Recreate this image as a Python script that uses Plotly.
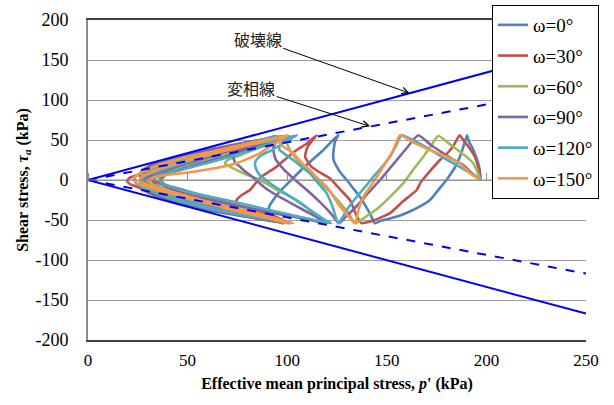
import plotly.graph_objects as go

# ---------------- data ----------------
names = ["ω=0°", "ω=30°", "ω=60°", "ω=90°", "ω=120°", "ω=150°"]
colors = ["#4F81BD", "#C0504D", "#9BBB59", "#8064A2", "#4BACC6", "#F79646"]

p_w0 = [197, 196.8, 196, 194.6, 193, 191.2, 190.3,
        188.5, 186.7, 184, 180.5, 176, 171.7, 166, 161, 156, 151.6, 147, 144,
        141.6, 139, 136.5, 133, 129.9, 126.8, 124.8, 123.3, 123.1, 123.5, 124, 125.6,
        121.5, 117.5, 112.5, 108, 104, 100, 96, 93, 91, 90.5, 93, 97, 101,
        92, 82, 70, 58, 47, 39, 33, 30.5, 30.5, 33, 39, 48, 60, 72, 84, 94, 99,
        90, 80, 68, 56, 46, 38, 33, 31, 32, 36, 44, 55, 67, 80, 91, 102,
        92, 80, 68, 56, 46, 38, 33, 32, 34, 40, 50, 62, 75, 87, 97, 104]
t_w0 = [0, 10, 20, 30, 40, 48, 56,
        42, 29, 15, 2, -12, -25, -34, -40, -45, -48, -51, -54,
        -42, -31, -21, -10, 0, 9, 17, 25, 33, 41, 48, 56,
        46, 36, 25, 15, 5, -5, -15, -25, -33, -38, -44, -49, -54,
        -50, -45, -38, -31, -24, -18, -12, -6, 0, 5, 11, 18, 27, 36, 44, 50, 55,
        51, 46, 40, 33, 26, 19, 12, 5, -2, -8, -15, -24, -33, -41, -48, -54,
        -49, -43, -37, -30, -23, -16, -9, -3, 3, 10, 19, 29, 38, 46, 51, 55]

p_w30 = [197, 196.5, 195.5, 194, 191.5, 189, 186.5,
         184, 181, 176.7, 172, 167, 165, 158, 151.6, 146, 141.6, 137.4,
         136, 134, 131.5, 127, 121.5, 116, 111.4, 109, 109.5, 110.4, 112.5, 114.8,
         109.5, 104.8, 99.5, 94.7, 90, 86.3, 81.3, 77, 74.6, 73.8, 76, 81, 90, 98,
         90, 80, 68, 56, 45, 35, 27, 21, 19.6, 21, 26, 35, 48, 62, 76, 88, 97,
         88, 76, 64, 52, 42, 34, 29, 28, 30, 36, 46, 58, 71, 84, 94, 100,
         90, 78, 66, 54, 44, 36, 30, 27, 28, 33, 42, 54, 67, 80, 91, 98]
t_w30 = [0, 10, 20, 30, 40, 48, 56,
         45, 35, 25, 12, -3, -12.5, -27, -41.5, -48, -52, -54,
         -50, -40, -25, -13, 2, 10, 18.7, 29, 36, 42, 49, 56,
         45, 37.5, 27, 16.7, 9, 2.5, -12.5, -19, -25, -33, -39, -45, -50, -54,
         -49, -44, -38, -31, -25, -18, -11, -5, -1, 3, 7, 13, 21, 30, 38, 46, 55,
         51, 45, 38, 31, 24, 18, 13, 8, 3, -4, -11, -20, -29, -38, -46, -54,
         -49, -44, -39, -33, -27, -21, -14, -7, 0, 7, 15, 24, 33, 42, 49, 55]

p_w60 = [197, 195.5, 193.4, 190.5, 186.7, 181.5, 175.9,
         172, 168.3, 163, 158.3, 152.5, 146.6, 140.5, 134,
         131, 127, 122, 116, 110, 105, 101.5, 100, 101,
         95, 89.7, 83, 76.3, 72, 69.6, 68.8, 71.3, 78, 86.3, 96, 104.8, 111, 116.5, 120,
         108, 95, 82, 68, 55, 45, 39, 37, 39, 46, 58, 71, 84, 94, 101,
         90, 78, 66, 54, 44, 36, 30, 27, 28, 33, 42, 55, 69, 83, 94, 101,
         90, 78, 66, 54, 44, 36, 31, 29, 31, 37, 47, 59, 72, 85, 96]
t_w60 = [0, 10, 20.8, 28, 35.4, 45, 55.4,
         42, 29, 12, -4, -19, -33, -44, -54,
         -42, -30, -16, -2, 12, 25, 37, 46, 55,
         49, 43.7, 37.5, 31, 27, 24, 20.8, 16.7, 8.5, 0, -14, -25, -37, -50, -54,
         -48, -42, -36, -28, -21, -14, -7, 0, 6, 13, 22, 31, 40, 48, 55,
         51, 45, 39, 33, 27, 21, 15, 8, 1, -6, -14, -23, -32, -41, -48, -54,
         -50, -45, -39, -32, -25, -18, -11, -4, 3, 10, 17, 26, 35, 45, 55]

p_w90 = [197, 192, 188.4, 183, 178.4, 172, 165.8,
         160, 155, 146.6, 140, 134, 129, 126,
         122, 117, 111, 104, 98, 94, 93, 95, 100,
         92, 86, 80, 76, 74.6, 73, 73.8, 76.3, 78, 83, 88, 92, 104.8, 113, 120.6,
         110, 97, 83, 69, 56, 46, 39, 36, 38, 45, 57, 70, 83, 93, 100,
         89, 77, 65, 53, 43, 35, 29, 26, 27, 32, 41, 54, 68, 82, 93, 100,
         89, 77, 65, 53, 43, 35, 29, 27, 29, 35, 45, 57, 70, 83, 94]
t_w90 = [0, 10, 18.7, 26, 33.3, 44, 56,
         40, 25, 0, -18, -35, -47, -54,
         -42, -29, -15, 0, 14, 27, 40, 49, 55,
         48, 44, 40, 37, 35.4, 29, 22, 16.7, 12.5, 3, -8, -15, -33, -44, -54,
         -49, -43, -36, -29, -22, -15, -8, -1, 5, 12, 21, 30, 39, 47, 55,
         51, 46, 40, 34, 28, 22, 15, 8, 0, -7, -15, -24, -33, -42, -49, -54,
         -50, -45, -40, -34, -28, -21, -14, -6, 2, 9, 17, 26, 36, 46, 55]

p_w120 = [197, 191, 184, 177, 169, 157.5,
          154.5, 151.6, 147.5, 143.2, 139, 134.9, 129.9, 126.5, 125.5,
          123, 119.8, 115.5, 111.4, 107, 103, 98.5, 96, 96.5, 100, 105,
          98, 92, 87, 84.5, 83.8, 84.5, 86.3, 91.4, 98, 106, 113, 119, 122,
          112, 99, 85, 71, 58, 48, 40, 36, 36, 40, 49, 61, 74, 86, 96, 104,
          92, 79, 66, 54, 43, 34, 27, 23.6, 24, 28, 37, 50, 64, 79, 92, 101,
          90, 78, 65, 53, 43, 35, 29, 26, 28, 34, 44, 56, 69, 82, 95]
t_w120 = [0, 10, 20, 30, 42, 56,
          42, 29, 16, 4, -9, -21, -37.5, -52, -54,
          -35, -16.7, -4, 8.3, 17, 25, 33, 38, 45, 51, 56,
          46, 37, 31, 25, 21, 13, 6, -4, -15, -28, -40, -50, -54,
          -49, -42, -34, -26, -19, -13, -7, -2, 3, 8, 14, 22, 31, 41, 49, 55,
          49, 43, 36, 29, 22, 15, 9, 3, -4, -10, -18, -27, -36, -44, -50, -54,
          -49, -44, -38, -31, -24, -17, -10, -3, 4, 10, 18, 27, 37, 47, 55]

p_w150 = [197, 192, 186.7, 180, 171.7, 164, 156.6,
          153.3, 149, 145, 141.5, 138.2, 136, 134,
          130, 126.5, 123, 119.8, 115, 111.4, 107, 103, 99, 96.5, 96.5, 100,
          90, 78, 66, 55, 45, 37, 31, 27, 26, 28, 34, 44, 57, 71, 85, 96, 103,
          93, 81, 68, 56, 46, 38, 33, 31, 33, 38, 49, 62, 74.6, 86, 96.4, 100,
          89, 77, 65, 53, 43, 35, 29, 25, 23, 24, 29, 38, 50, 64, 78, 91, 100]
t_w150 = [0, 8, 20.8, 29, 37.5, 46, 56,
          37.5, 20, 4, -9, -21, -35, -54,
          -43, -33, -20, -8, 3, 12.5, 22, 33.7, 40, 45, 50, 56,
          49, 42, 35, 28, 21, 15, 9, 4, 0, -4, -9, -16, -25, -34, -42, -49, -54,
          -48, -41, -34, -27, -20, -14, -8, -2, 3, 6, 9, 14, 21, 33, 50, 55,
          50, 44, 37, 30, 24, 18, 12, 7, 2, -3, -8, -15, -23, -32, -41, -48, -54]

series_p = [p_w0, p_w30, p_w60, p_w90, p_w120, p_w150]
series_t = [t_w0, t_w30, t_w60, t_w90, t_w120, t_w150]

# reference lines (slopes)
line_p = [0, 250]
failure_up = [0, 168]
failure_low = [0, -167]
phase_up = [0, 118]
phase_low = [0, -117]

x_ticks = [0, 50, 100, 150, 200, 250]
y_ticks = [-200, -150, -100, -50, 0, 50, 100, 150, 200]
y_ticktext = ["-200", "-150", "-100", "-50", "0", "50", "100", "150", "200"]

# ---------------- figure ----------------
fig = go.Figure()
for nm, col, px, ty in zip(names, colors, series_p, series_t):
    fig.add_trace(go.Scatter(x=px, y=ty, mode="lines", name=nm, legendgroup=nm,
                             line=dict(color=col, width=2.6, shape="spline", smoothing=0.5)))

for yy, dash in [(failure_up, "solid"), (failure_low, "solid"),
                 (phase_up, "dash"), (phase_low, "dash")]:
    fig.add_trace(go.Scatter(x=line_p, y=yy, mode="lines", showlegend=False,
                             line=dict(color="#0000FF", width=2, dash=dash), hoverinfo="skip"))

# axis through zero with upward tick marks
fig.add_trace(go.Scatter(x=line_p, y=[0, 0], mode="lines", xaxis="x2", showlegend=False,
                         line=dict(color="#8C8C8C", width=1), hoverinfo="skip"))

serif = "Liberation Serif, Times New Roman, serif"
fig.update_layout(
    width=614, height=405,
    margin=dict(l=88, r=28, t=20, b=65, autoexpand=False),
    paper_bgcolor="white", plot_bgcolor="white",
    font=dict(family=serif, size=16, color="black"),
    xaxis=dict(range=[0, 250], tickvals=x_ticks, showgrid=False, zeroline=False,
               showline=True, linecolor="#404040", linewidth=1.5, mirror=True, ticks="",
               ticklabelstandoff=4, automargin=False,
               title=dict(text="<b>Effective mean principal stress, <i>p</i>' (kPa)</b>",
                          font=dict(family=serif, size=16), standoff=9),
               tickfont=dict(family=serif, size=17)),
    xaxis2=dict(range=[0, 250], overlaying="x", anchor="free", position=0.5, side="top",
                tickvals=x_ticks, ticks="outside", ticklen=7, tickcolor="#8C8C8C",
                showticklabels=False, showgrid=False, zeroline=False, showline=False),
    yaxis=dict(range=[-200, 200], tickvals=y_ticks, ticktext=y_ticktext,
               showgrid=True, gridcolor="#A0A0A0", automargin=False,
               gridwidth=1, zeroline=False, showline=True, linecolor="#8C8C8C", linewidth=2,
               ticks="", tickfont=dict(family=serif, size=18), ticklabelstandoff=14,
               title=dict(text="<b>Shear stress, <i>τ</i><sub><i>a</i></sub> (kPa)</b>",
                          font=dict(family=serif, size=16), standoff=3)),
    legend=dict(x=(492 - 88) / 498, y=(340 - 5) / 320, xanchor="left", yanchor="top",
                bgcolor="white", bordercolor="black", borderwidth=1, maxheight=400,
                font=dict(family=serif, size=19), traceorder="grouped", tracegroupgap=3),
    annotations=[
        dict(x=161.5, y=108.5, xref="x", yref="y", text="破壊線", showarrow=True,
             ax=-152, ay=-54, arrowhead=5, arrowsize=1.3, arrowwidth=1, arrowcolor="black",
             font=dict(family="Noto Sans CJK JP", size=16, color="#222222")),
        dict(x=141.6, y=67.1, xref="x", yref="y", text="変相線", showarrow=True,
             ax=-119, ay=-38, arrowhead=5, arrowsize=1.3, arrowwidth=1, arrowcolor="black",
             font=dict(family="Noto Sans CJK JP", size=16, color="#222222")),
    ],
)
fig.write_html("out.html")
